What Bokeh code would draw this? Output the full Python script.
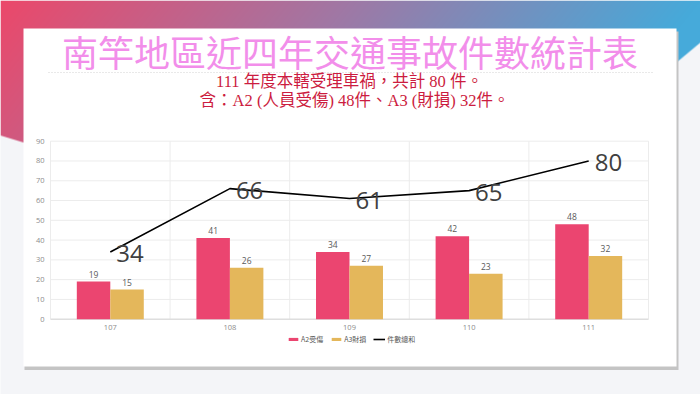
import numpy as np
from bokeh.plotting import figure
from bokeh.models import Range1d, Legend, LegendItem
from bokeh.core.properties import value
from bokeh.embed import file_html
from bokeh.resources import INLINE

# ---------------- data ----------------
years = ["107", "108", "109", "110", "111"]
a2_injury = [19, 41, 34, 42, 48]
a3_damage = [15, 26, 27, 23, 32]
total_cases = [34, 66, 61, 65, 80]
y_ticks = [0, 10, 20, 30, 40, 50, 60, 70, 80, 90]
legend_labels = ["A2受傷", "A3財損", "件數總和"]
title_text = "南竿地區近四年交通事故件數統計表"
subtitle_1 = "111 年度本轄受理車禍，共計 80 件。"
subtitle_2 = "含：A2 (人員受傷) 48件、A3 (財損) 32件。"

# ---------------- geometry (page pixels) ----------------
W, H = 700, 394
M = 0
PL, PR, PT, PB = 50.0, 648.0, 140.7, 318.7   # chart plot area on page
n = len(years)
ymax = y_ticks[-1]
ppu_x = (PR - PL) / n
ppu_y = (PB - PT) / ymax
x_start = -0.5 - (PL - M) / ppu_x
x_end = (n - 0.5) + (M + W - PR) / ppu_x
y_start = -(M + H - PB) / ppu_y
y_end = ymax + (PT - M) / ppu_y

p = figure(width=W, height=H, x_range=Range1d(x_start, x_end),
           y_range=Range1d(y_start, y_end), output_backend="svg",
           toolbar_location=None, x_axis_location=None, y_axis_location=None,
           min_border=0, outline_line_color=None,
           background_fill_color="#f4f5f8", border_fill_color="#f4f5f8")
p.xgrid.visible = False
p.ygrid.visible = False
p.extra_x_ranges = {"px": Range1d(M, M + W)}
p.extra_y_ranges = {"py": Range1d(-(M + H), -M)}
PX = dict(x_range_name="px", y_range_name="py")

# ---------------- gradient band ----------------
gh, gw = 160, 700
yy, xx = np.mgrid[0:gh, 0:gw].astype(float) + 0.5
t = np.clip((xx + 0.8 * yy) / 700.0, 0, 1)
r = np.interp(t, [0, 0.5, 1], [236, 160, 70])
g = np.interp(t, [0, 0.5, 1], [72, 120, 170])
b = np.interp(t, [0, 0.5, 1], [106, 165, 218])
boundary = np.interp(xx, [0, 23, 200, 450, 640, 676, 700], [135, 142, 150, 130, 88, 62, 42])
alpha = np.clip(boundary - yy + 0.5, 0, 1) * 255
rgba = np.zeros((gh, gw, 4), dtype=np.uint8)
rgba[..., 0] = r
rgba[..., 1] = g
rgba[..., 2] = b
rgba[..., 3] = alpha
img = rgba.view(np.uint32).reshape(gh, gw)[::-1]
p.image_rgba(image=[img], x=0, y=-gh, dw=gw, dh=gh, **PX)

# ---------------- card ----------------
p.quad(left=24, right=678, top=-31, bottom=-369.5, fill_color="#c4c4c4", line_color=None, **PX)
p.quad(left=23, right=676, top=-28, bottom=-366, fill_color="white", line_color=None, **PX)

p.text(x=[349.5], y=[-50], text=[title_text], text_align="center", text_baseline="middle",
       text_font=value("Noto Sans CJK TC"), text_font_size="36px", text_color="#f28eea", **PX)
p.line(x=[48, 652], y=[-72, -72], line_color="#d2d2d2", line_dash="1 2", line_width=1, **PX)
p.text(x=[349, 354], y=[-81, -99.5], text=[subtitle_1, subtitle_2], text_align="center",
       text_baseline="middle", text_font=value("Liberation Serif, Noto Sans CJK TC"),
       text_font_size="16.5px", text_color="#cc1c40", **PX)

# ---------------- chart grid ----------------
idx = list(range(n))
p.segment(x0=[-0.5] * len(y_ticks), x1=[n - 0.5] * len(y_ticks), y0=y_ticks, y1=y_ticks,
          line_color="#ececec", line_width=1)
p.segment(x0=[k - 0.5 for k in range(n + 1)], x1=[k - 0.5 for k in range(n + 1)],
          y0=[0] * (n + 1), y1=[ymax] * (n + 1), line_color="#ececec", line_width=1)
p.segment(x0=[-0.5], x1=[n - 0.5], y0=[0], y1=[0], line_color="#d6d6d6", line_width=1)

p.text(x=[-0.5] * len(y_ticks), y=y_ticks, text=[str(v) for v in y_ticks], x_offset=-6,
       text_align="right", text_baseline="middle", text_font=value("Open Sans"),
       text_font_size="7.5px", text_color="#8c8c8c")
p.text(x=idx, y=[0] * n, text=years, y_offset=8, text_align="center", text_baseline="middle",
       text_font=value("Open Sans"), text_font_size="7.5px", text_color="#8c8c8c")

# ---------------- bars ----------------
bw = 0.28
xa = [i - bw / 2 for i in idx]
xb = [i + bw / 2 for i in idx]
r_a2 = p.vbar(x=xa, top=a2_injury, width=bw, bottom=0, fill_color="#eb4570", line_color=None)
r_a3 = p.vbar(x=xb, top=a3_damage, width=bw, bottom=0, fill_color="#e4b75b", line_color=None)
p.text(x=xa, y=a2_injury, text=[str(v) for v in a2_injury], y_offset=-4, text_align="center",
       text_baseline="bottom", text_font=value("Open Sans"), text_font_size="8.5px",
       text_color="#595959")
p.text(x=xb, y=a3_damage, text=[str(v) for v in a3_damage], y_offset=-4, text_align="center",
       text_baseline="bottom", text_font=value("Open Sans"), text_font_size="8.5px",
       text_color="#595959")

# ---------------- total line ----------------
r_tot = p.line(x=idx, y=total_cases, line_color="black", line_width=1.6)
p.text(x=idx, y=total_cases, text=[str(v) for v in total_cases], x_offset=6, y_offset=2,
       text_align="left", text_baseline="middle", text_font=value("Open Sans"),
       text_font_size="24px", text_color="#404040")

# ---------------- legend ----------------
legend = Legend(items=[LegendItem(label=legend_labels[0], renderers=[r_a2]),
                       LegendItem(label=legend_labels[1], renderers=[r_a3]),
                       LegendItem(label=legend_labels[2], renderers=[r_tot])],
                orientation="horizontal", location=(287, 50), glyph_width=12, glyph_height=4,
                label_height=8, label_standoff=2, spacing=7, padding=0, margin=0,
                label_text_font="Noto Sans CJK TC", label_text_font_size="7px",
                label_text_color="#595959", background_fill_alpha=0, border_line_alpha=0)
p.add_layout(legend)

open("out.html", "w").write(file_html(p, INLINE))
